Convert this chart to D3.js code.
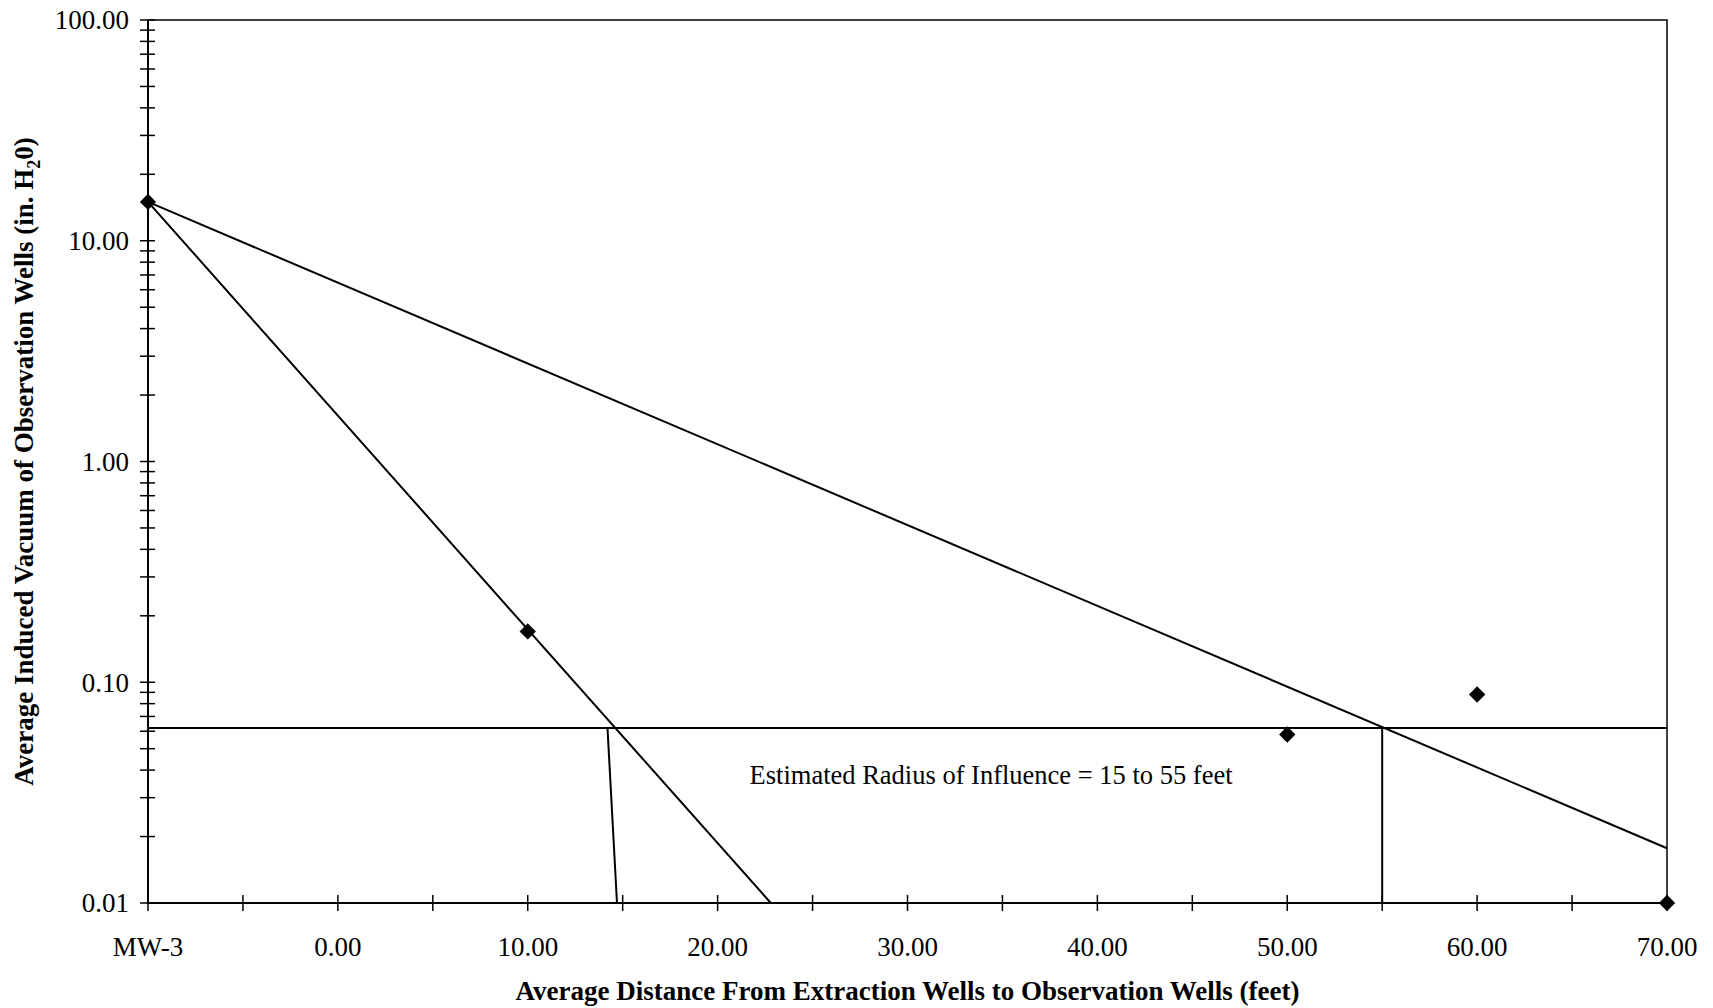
<!DOCTYPE html>
<html>
<head>
<meta charset="utf-8">
<script src="https://cdn.jsdelivr.net/npm/d3@7"></script>
<style>
  body { margin: 0; background: #fff; }
  text { font-family: "Liberation Serif", "Times New Roman", serif; fill: #000; }
</style>
</head>
<body>
<div id="chart"></div>
<script>
// data
const xTicks = [-10, 0, 10, 20, 30, 40, 50, 60, 70];
const xTickLabels = ["MW-3", "0.00", "10.00", "20.00", "30.00", "40.00", "50.00", "60.00", "70.00"];
const xMinorTicks = [-5, 5, 15, 25, 35, 45, 55, 65];
const yTicks = [0.01, 0.1, 1, 10, 100];
const yTickLabels = ["0.01", "0.10", "1.00", "10.00", "100.00"];

const pointX = [-10, 10, 50, 60, 70];
const pointY = [15, 0.17, 0.058, 0.088, 0.01];

// fitted trend lines (start / end)
const fitWideX = [-10, 70];
const fitWideY = [15, 0.0177];
const fitNarrowX = [-10, 22.8];
const fitNarrowY = [15, 0.01];

// threshold vacuum and the radius drop lines
const thresholdY = 0.062;
const dropNarrowX = [14.2, 14.7];
const dropWideX = [55, 55];

const note = "Estimated Radius of Influence = 15 to 55 feet";
const noteX = 34.4;
const noteY = 0.038;

// config
const width = 1713;
const height = 1008;
const margin = {left: 148, right: 46, top: 20, bottom: 105};

const svg = d3.select("#chart").append("svg")
  .attr("width", width)
  .attr("height", height)
  .style("background", "white");

const x = d3.scaleLinear().domain([-10, 70]).range([margin.left, width - margin.right]);
const y = d3.scaleLog().domain([0.01, 100]).range([height - margin.bottom, margin.top]);

const g = svg.append("g");

// frame
g.append("rect")
  .attr("x", x(-10)).attr("y", y(100))
  .attr("width", x(70) - x(-10)).attr("height", y(0.01) - y(100))
  .attr("fill", "none").attr("stroke", "#000").attr("stroke-width", 1.5);
g.append("line")
  .attr("x1", x(-10)).attr("x2", x(-10)).attr("y1", y(100)).attr("y2", y(0.01))
  .attr("stroke", "#000").attr("stroke-width", 2);
g.append("line")
  .attr("x1", x(-10)).attr("x2", x(70)).attr("y1", y(0.01)).attr("y2", y(0.01))
  .attr("stroke", "#000").attr("stroke-width", 2);

// y ticks (major + minor, crossing the axis)
const yMinor = [];
[0.01, 0.1, 1, 10].forEach(d => { for (let k = 2; k <= 9; k++) yMinor.push(d * k); });
g.selectAll(".ytick").data(yTicks.concat(yMinor)).enter().append("line")
  .attr("x1", x(-10) - 8).attr("x2", x(-10) + 7)
  .attr("y1", d => y(d)).attr("y2", d => y(d))
  .attr("stroke", "#000").attr("stroke-width", 1.5);

g.selectAll(".ylab").data(yTicks).enter().append("text")
  .attr("x", x(-10) - 19)
  .attr("y", d => y(d))
  .attr("dy", "0.35em")
  .attr("text-anchor", "end")
  .style("font-size", "27px")
  .text((d, i) => yTickLabels[i]);

// x ticks
g.selectAll(".xtick").data(xTicks.concat(xMinorTicks)).enter().append("line")
  .attr("x1", d => x(d)).attr("x2", d => x(d))
  .attr("y1", y(0.01) - 8).attr("y2", y(0.01) + 8)
  .attr("stroke", "#000").attr("stroke-width", 1.5);

g.selectAll(".xlab").data(xTicks).enter().append("text")
  .attr("x", d => x(d))
  .attr("y", y(0.01) + 53)
  .attr("text-anchor", "middle")
  .style("font-size", "27px")
  .text((d, i) => xTickLabels[i]);

// lines
const line = d3.line().x(d => x(d[0])).y(d => y(d[1]));
const segs = [
  d3.zip(fitWideX, fitWideY),
  d3.zip(fitNarrowX, fitNarrowY),
  [[-10, thresholdY], [70, thresholdY]],
  [[dropNarrowX[0], thresholdY], [dropNarrowX[1], 0.01]],
  [[dropWideX[0], thresholdY], [dropWideX[1], 0.01]]
];
g.selectAll(".seg").data(segs).enter().append("path")
  .attr("d", line)
  .attr("fill", "none")
  .attr("stroke", "#000")
  .attr("stroke-width", 2);

// points
g.selectAll(".pt").data(d3.zip(pointX, pointY)).enter().append("path")
  .attr("transform", d => `translate(${x(d[0])},${y(d[1])})`)
  .attr("d", d3.symbol().type(d3.symbolDiamond2).size(170))
  .attr("fill", "#000");

// note
g.append("text")
  .attr("x", x(noteX)).attr("y", y(noteY))
  .attr("dy", "0.35em")
  .attr("text-anchor", "middle")
  .style("font-size", "26.5px")
  .text(note);

// axis titles
svg.append("text")
  .attr("x", (x(-10) + x(70)) / 2)
  .attr("y", 1000)
  .attr("text-anchor", "middle")
  .style("font-size", "27px")
  .style("font-weight", "bold")
  .text("Average Distance From Extraction Wells to Observation Wells (feet)");

const yt = svg.append("text")
  .attr("transform", `translate(33,${(y(100) + y(0.01)) / 2}) rotate(-90)`)
  .attr("text-anchor", "middle")
  .style("font-size", "27px")
  .style("font-weight", "bold");
yt.append("tspan").text("Average Induced Vacuum of Observation Wells (in. H");
yt.append("tspan").attr("dy", "7").style("font-size", "18px").text("2");
yt.append("tspan").attr("dy", "-7").text("0)");
</script>
</body>
</html>
